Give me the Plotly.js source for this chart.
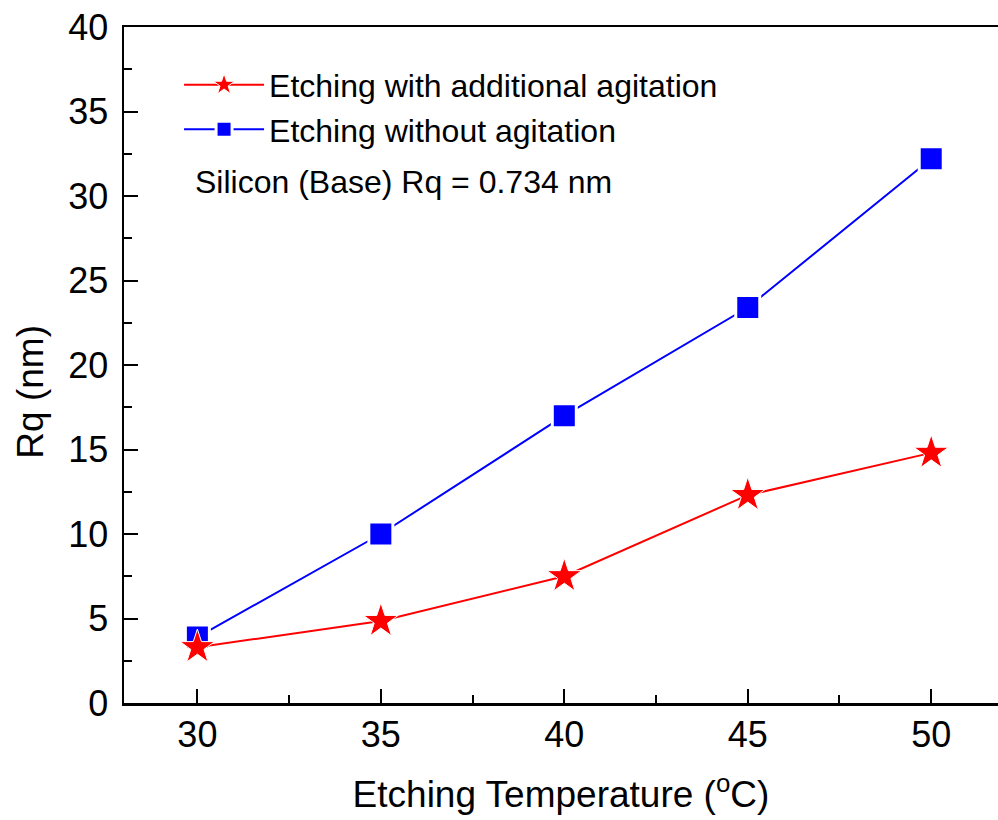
<!DOCTYPE html>
<html>
<head>
<meta charset="utf-8">
<script src="https://cdn.plot.ly/plotly-3.0.1.min.js"></script>
<style>html,body{margin:0;padding:0;background:#fff;}#chart{width:998px;height:820px;}</style>
</head>
<body>
<div id="chart"></div>
<script>
var temperatures = [30, 35, 40, 45, 50];
var rqWithAgitation = [3.3, 4.85, 7.5, 12.3, 14.8];
var rqWithoutAgitation = [3.9, 10.0, 17.0, 23.4, 32.2];
var seriesNames = ["Etching with additional agitation", "Etching without agitation"];
var xTickValues = [30, 35, 40, 45, 50];
var yTickValues = [0, 5, 10, 15, 20, 25, 30, 35, 40];
var noteText = "Silicon (Base) Rq = 0.734 nm";

var FONT = "Liberation Sans, Arial, sans-serif";

var traces = [
  {
    x: temperatures, y: rqWithoutAgitation, name: seriesNames[1], legendrank: 2,
    type: "scatter", mode: "lines+markers",
    line: {color: "#0000FF", width: 2},
    marker: {symbol: "square", size: 24, color: "#0000FF", line: {color: "#FFFFFF", width: 3}}
  },
  {
    x: temperatures, y: rqWithAgitation, name: seriesNames[0], legendrank: 1,
    type: "scatter", mode: "lines+markers",
    line: {color: "#FF0000", width: 2},
    marker: {symbol: "star", size: 26, color: "#FF0000", line: {color: "#FFFFFF", width: 1}}
  }
];

var layout = {
  width: 998, height: 820,
  margin: {l: 124, r: 0, t: 27, b: 117, pad: 0},
  paper_bgcolor: "#FFFFFF", plot_bgcolor: "#FFFFFF",
  font: {family: FONT, color: "#000000", size: 36},
  showlegend: true,
  legend: {
    x: 0.063, y: 0.955, xanchor: "left", yanchor: "top",
    bgcolor: "rgba(0,0,0,0)", borderwidth: 0,
    font: {family: FONT, size: 32, color: "#000000"},
    itemwidth: 80, tracegroupgap: 0
  },
  xaxis: {
    range: [28, 51.82], tickmode: "array", tickvals: xTickValues,
    ticks: "inside", ticklen: 14, tickwidth: 2, tickcolor: "#000000",
    minor: {ticks: "inside", dtick: 2.5, tick0: 30, ticklen: 8, tickwidth: 2, tickcolor: "#000000"},
    showline: true, linecolor: "#000000", linewidth: 2.5, mirror: true,
    showgrid: false, zeroline: false,
    tickfont: {family: FONT, size: 36, color: "#000000"},
    ticklabelstandoff: -2,
    title: {text: "Etching Temperature (<sup>o</sup>C)", font: {family: FONT, size: 37, color: "#000000"}, standoff: 28}
  },
  yaxis: {
    range: [0, 40], tickmode: "array", tickvals: yTickValues,
    ticks: "inside", ticklen: 14, tickwidth: 2, tickcolor: "#000000",
    minor: {ticks: "inside", dtick: 2.5, tick0: 0, ticklen: 8, tickwidth: 2, tickcolor: "#000000"},
    showline: true, linecolor: "#000000", linewidth: 2.5, mirror: false,
    showgrid: false, zeroline: false,
    tickfont: {family: FONT, size: 36, color: "#000000"},
    ticklabelstandoff: 6
  },
  annotations: [
    {
      text: noteText, xref: "paper", yref: "paper", x: 0.079, y: 0.77,
      xanchor: "left", yanchor: "middle", showarrow: false,
      font: {family: FONT, size: 32, color: "#000000"}
    },
    {
      text: "Rq (nm)", xref: "paper", yref: "paper", x: -0.108, y: 0.46,
      xanchor: "center", yanchor: "middle", textangle: -90, showarrow: false,
      font: {family: FONT, size: 37, color: "#000000"}
    }
  ]
};

Plotly.newPlot("chart", traces, layout, {displayModeBar: false, staticPlot: true});
</script>
</body>
</html>
